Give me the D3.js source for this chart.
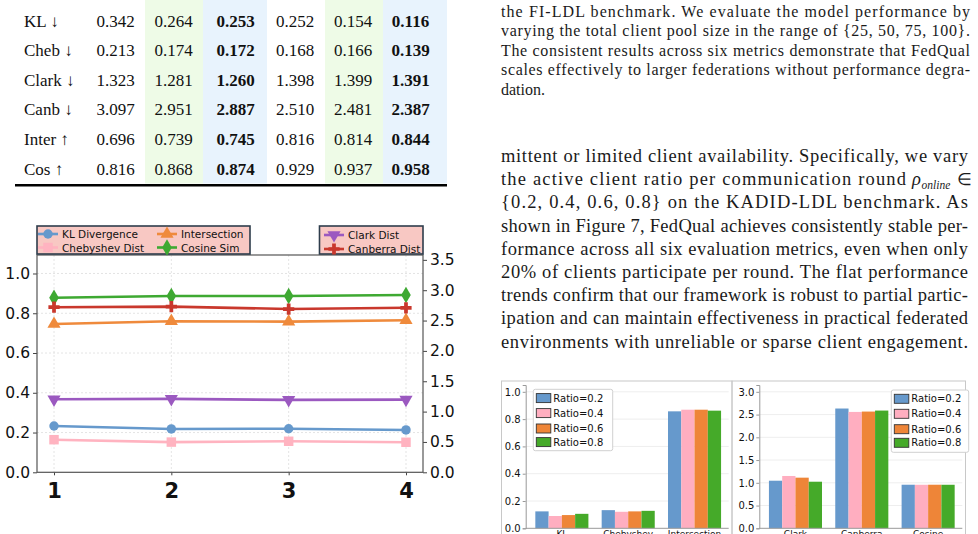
<!DOCTYPE html>
<html>
<head>
<meta charset="utf-8">
<script src="https://cdn.jsdelivr.net/npm/d3@7"></script>
<style>
  body { margin: 0; background: #fff; }
  svg { display: block; }
</style>
</head>
<body>
<div id="page"></div>
<script>
// ---------- table data ----------
const tableRows = ["KL \u2193", "Cheb \u2193", "Clark \u2193", "Canb \u2193", "Inter \u2191", "Cos \u2191"];
const tableValues = [
  ["0.342", "0.264", "0.253", "0.252", "0.154", "0.116"],
  ["0.213", "0.174", "0.172", "0.168", "0.166", "0.139"],
  ["1.323", "1.281", "1.260", "1.398", "1.399", "1.391"],
  ["3.097", "2.951", "2.887", "2.510", "2.481", "2.387"],
  ["0.696", "0.739", "0.745", "0.816", "0.814", "0.844"],
  ["0.816", "0.868", "0.874", "0.929", "0.937", "0.958"]
];
const boldCols = [2, 5];

// ---------- line chart data (client pool size) ----------
const rounds = [1, 2, 3, 4];
const klDiv = [0.233, 0.218, 0.219, 0.213];
const chebDist = [0.164, 0.152, 0.156, 0.151];
const interSec = [0.746, 0.760, 0.758, 0.765];
const cosSim = [0.878, 0.887, 0.887, 0.892];
const clarkDist = [1.203, 1.209, 1.193, 1.198];
const canbDist = [2.72, 2.73, 2.69, 2.71];
const leftTicks = [0.0, 0.2, 0.4, 0.6, 0.8, 1.0];
const rightTicks = [0.0, 0.5, 1.0, 1.5, 2.0, 2.5, 3.0, 3.5];

// ---------- bar chart data (client ratio) ----------
const ratios = ["Ratio=0.2", "Ratio=0.4", "Ratio=0.6", "Ratio=0.8"];
const barMetricsA = ["KL", "Chebyshev", "Intersection"];
const barValuesA = [
  [0.124, 0.090, 0.097, 0.106],
  [0.133, 0.121, 0.124, 0.128],
  [0.857, 0.869, 0.869, 0.862]
];
const barTicksA = [0.0, 0.2, 0.4, 0.6, 0.8, 1.0];
const barMetricsB = ["Clark", "Canberra", "Cosine"];
const barValuesB = [
  [1.046, 1.150, 1.113, 1.024],
  [2.633, 2.558, 2.566, 2.588],
  [0.958, 0.957, 0.958, 0.957]
];
const barTicksB = [0.0, 0.5, 1.0, 1.5, 2.0, 2.5, 3.0];

// ---------- paragraph text ----------
const paraTop = [
  "the FI-LDL benchmark. We evaluate the model performance by",
  "varying the total client pool size in the range of {25, 50, 75, 100}.",
  "The consistent results across six metrics demonstrate that FedQual",
  "scales effectively to larger federations without performance degra-",
  "dation."
];
const paraBottom = [
  "mittent or limited client availability. Specifically, we vary",
  "the active client ratio per communication round",
  "{0.2, 0.4, 0.6, 0.8} on the KADID-LDL benchmark.  As",
  "shown in Figure 7, FedQual achieves consistently stable per-",
  "formance across all six evaluation metrics, even when only",
  "20% of clients participate per round. The flat performance",
  "trends confirm that our framework is robust to partial partic-",
  "ipation and can maintain effectiveness in practical federated",
  "environments with unreliable or sparse client engagement."
];

const svg = d3.select("#page").append("svg")
  .attr("width", 978).attr("height", 534);

const serif = "'Liberation Serif', 'Times New Roman', serif";
const sans = "'DejaVu Sans', sans-serif";

// ===================================
// TABLE
// ===================================
(function() {
  const g = svg.append("g");
  const colX = [115.5, 173.5, 235.5, 295, 353, 410.5];
  const rowY = d3.scaleLinear().domain([0, 5]).range([26.5, 174.5]);

  // shaded columns
  const bands = [
    { x0: 145, x1: 203, fill: "#eefbe7" },
    { x0: 203, x1: 267, fill: "#e8f3fd" },
    { x0: 325, x1: 383, fill: "#eefbe7" },
    { x0: 383, x1: 447, fill: "#e8f3fd" }
  ];
  g.selectAll("rect.band").data(bands).join("rect")
    .attr("x", d => d.x0).attr("y", 0)
    .attr("width", d => d.x1 - d.x0).attr("height", 183.5)
    .attr("fill", d => d.fill);

  g.selectAll("text.row").data(tableRows).join("text")
    .attr("x", 24).attr("y", (d, i) => rowY(i))
    .attr("font-family", serif).attr("font-size", 17).attr("fill", "#111")
    .text(d => d);

  tableValues.forEach((row, i) => {
    g.selectAll(null).data(row).join("text")
      .attr("x", (d, j) => colX[j]).attr("y", rowY(i))
      .attr("text-anchor", "middle")
      .attr("font-family", serif).attr("font-size", 17).attr("fill", "#111")
      .attr("font-weight", (d, j) => boldCols.includes(j) ? "bold" : "normal")
      .text(d => d);
  });

  g.append("rect").attr("x", 15).attr("y", 184).attr("width", 432).attr("height", 2.5).attr("fill", "#000");
})();

// ===================================
// PARAGRAPHS
// ===================================
function justLine(str, x, y, w, size, justify) {
  const t = svg.append("text")
    .attr("x", x).attr("y", y)
    .attr("font-family", serif).attr("font-size", size).attr("fill", "#1a1a1a")
    .text(str);
  if (justify) t.attr("textLength", w).attr("lengthAdjust", "spacing");
  return t;
}
paraTop.forEach((s, i) => justLine(s, 501, 16.5 + i * 19.6, 469, 16, i < paraTop.length - 1));
paraBottom.forEach((s, i) => {
  const y = 162 + i * 23.2;
  if (i === 1) {
    justLine(s, 501, y, 405, 18.5, true);
    svg.append("text").attr("x", 912).attr("y", y).attr("font-family", serif)
      .attr("font-style", "italic").attr("font-size", 18.5).attr("fill", "#1a1a1a").text("\u03C1");
    svg.append("text").attr("x", 921.5).attr("y", y + 3.5).attr("font-family", serif)
      .attr("font-style", "italic").attr("font-size", 11.5).attr("fill", "#1a1a1a").text("online");
    svg.append("text").attr("x", 957).attr("y", y).attr("font-family", serif)
      .attr("font-size", 17).attr("fill", "#1a1a1a").text("\u2208");
  } else {
    justLine(s, 501, y, 467, 18.5, true);
  }
});

// ===================================
// LINE CHART
// ===================================
(function() {
  const left = 37, right = 423, top = 255, bottom = 472.3;
  const g = svg.append("g");

  const x = d3.scaleLinear().domain([0.855, 4.145]).range([left, right]);
  const yL = d3.scaleLinear().domain([0, 1.093]).range([bottom, top]);
  const yR = d3.scaleLinear().domain([0, 3.58]).range([bottom, top]);

  // grid
  g.append("g").selectAll("line").data(leftTicks.slice(1)).join("line")
    .attr("x1", left).attr("x2", right)
    .attr("y1", d => yL(d)).attr("y2", d => yL(d))
    .attr("stroke", "#ddd").attr("stroke-width", 0.8).attr("stroke-dasharray", "2,2");
  g.append("g").selectAll("line").data(rounds).join("line")
    .attr("x1", d => x(d)).attr("x2", d => x(d))
    .attr("y1", top).attr("y2", bottom)
    .attr("stroke", "#ddd").attr("stroke-width", 0.8).attr("stroke-dasharray", "2,2");

  // axes
  const axL = g.append("g").attr("transform", `translate(${left},0)`)
    .call(d3.axisLeft(yL).tickValues(leftTicks).tickFormat(d3.format(".1f")).tickSize(4).tickPadding(3));
  const axR = g.append("g").attr("transform", `translate(${right},0)`)
    .call(d3.axisRight(yR).tickValues(rightTicks).tickFormat(d3.format(".1f")).tickSize(4).tickPadding(3));
  const axX = g.append("g").attr("transform", `translate(0,${bottom})`)
    .call(d3.axisBottom(x).tickValues(rounds).tickFormat(d3.format("d")).tickSize(3).tickPadding(8));
  [axL, axR, axX].forEach(a => {
    a.select(".domain").remove();
    a.selectAll("line").attr("stroke", "#444");
    a.selectAll("text").attr("font-family", sans).attr("fill", "#111");
  });
  axL.selectAll("text").attr("font-size", 15.5);
  axR.selectAll("text").attr("font-size", 15.5);
  axX.selectAll("text").attr("font-size", 21).attr("font-weight", "bold");

  // frame
  g.append("rect").attr("x", left).attr("y", top)
    .attr("width", right - left).attr("height", bottom - top)
    .attr("fill", "none").attr("stroke", "#555").attr("stroke-width", 1.2);

  const series = [
    { name: "KL Divergence", vals: klDiv, y: yL, color: "#6699cc", sym: d3.symbolCircle, size: 70, rot: 0 },
    { name: "Chebyshev Dist", vals: chebDist, y: yL, color: "#ffb3c0", sym: d3.symbolSquare, size: 90, rot: 0 },
    { name: "Intersection", vals: interSec, y: yL, color: "#ef8a3c", sym: d3.symbolTriangle, size: 75, rot: 0 },
    { name: "Cosine Sim", vals: cosSim, y: yL, color: "#3ea932", sym: d3.symbolDiamond, size: 80, rot: 0 },
    { name: "Clark Dist", vals: clarkDist, y: yR, color: "#9b59c0", sym: d3.symbolTriangle, size: 75, rot: 180 },
    { name: "Canberra Dist", vals: canbDist, y: yR, color: "#c9382d", sym: d3.symbolCross, size: 70, rot: 0 }
  ];

  const line = (s) => d3.line().x((d, i) => x(rounds[i])).y(d => s.y(d))(s.vals);
  series.forEach(s => {
    g.append("path").attr("d", line(s)).attr("fill", "none")
      .attr("stroke", s.color).attr("stroke-width", 2.6);
    g.selectAll(null).data(s.vals).join("path")
      .attr("d", d3.symbol().type(s.sym).size(s.size))
      .attr("transform", (d, i) => `translate(${x(rounds[i])},${s.y(d)}) rotate(${s.rot})`)
      .attr("fill", s.color);
  });

  // legends
  function legend(items, box, pos) {
    const lg = g.append("g");
    lg.append("rect").attr("x", box.x).attr("y", box.y).attr("width", box.w).attr("height", box.h)
      .attr("fill", "#f8c8c3").attr("stroke", "#2e3d4c").attr("stroke-width", 1.6);
    items.forEach((s, i) => {
      const p = pos[i];
      lg.append("line").attr("x1", p.x).attr("x2", p.x + 20).attr("y1", p.y).attr("y2", p.y)
        .attr("stroke", s.color).attr("stroke-width", 2.6);
      lg.append("path").attr("d", d3.symbol().type(s.sym).size(s.size))
        .attr("transform", `translate(${p.x + 10},${p.y}) rotate(${s.rot})`).attr("fill", s.color);
      lg.append("text").attr("x", p.x + 24).attr("y", p.y + 4)
        .attr("font-family", sans).attr("font-size", 10.5).attr("fill", "#111").text(s.name);
    });
  }
  legend([series[0], series[1], series[2], series[3]],
    { x: 37, y: 226, w: 213, h: 28 },
    [{ x: 38, y: 234 }, { x: 38, y: 247.5 }, { x: 157, y: 234 }, { x: 157, y: 247.5 }]);
  legend([series[4], series[5]],
    { x: 319.5, y: 226, w: 103.5, h: 28 },
    [{ x: 324, y: 235 }, { x: 324, y: 249 }]);
})();

// ===================================
// BAR CHARTS
// ===================================
const barColors = ["#6699cc", "#ffaec0", "#ee8538", "#45aa29"];

// outer frames
svg.append("rect").attr("x", 501.5).attr("y", 381).attr("width", 230.5).attr("height", 170)
  .attr("fill", "none").attr("stroke", "#c8c8c8").attr("stroke-width", 1);
svg.append("rect").attr("x", 732).attr("y", 381).attr("width", 233.5).attr("height", 170)
  .attr("fill", "none").attr("stroke", "#c8c8c8").attr("stroke-width", 1);

function barPanel(axisX, metrics, values, ticks, ymax, legendBox) {
  const bottom = 528.3, top = 385, w = 203;
  const g = svg.append("g");

  const y = d3.scaleLinear().domain([0, ymax]).range([bottom, top]);
  const x0 = d3.scaleBand().domain(metrics).range([axisX + 3, axisX + 202]);
  const x1 = d3.scaleBand().domain(ratios).range([0, x0.bandwidth()]).paddingOuter(0.5);

  g.selectAll("line.grid").data(ticks.slice(1)).join("line")
    .attr("x1", axisX).attr("x2", axisX + w)
    .attr("y1", d => y(d)).attr("y2", d => y(d))
    .attr("stroke", "#eee").attr("stroke-width", 1);

  metrics.forEach((m, i) => {
    g.selectAll(null).data(values[i]).join("rect")
      .attr("x", (d, j) => x0(m) + x1(ratios[j]))
      .attr("y", d => y(d))
      .attr("width", x1.bandwidth())
      .attr("height", d => bottom - y(d))
      .attr("fill", (d, j) => barColors[j]);
  });

  const ay = g.append("g").attr("transform", `translate(${axisX},0)`)
    .call(d3.axisLeft(y).tickValues(ticks).tickFormat(d3.format(".1f")).tickSize(3).tickPadding(2));
  ay.select(".domain").attr("stroke", "#999");
  ay.selectAll("line").attr("stroke", "#999");
  ay.selectAll("text").attr("font-family", sans).attr("font-size", 10).attr("fill", "#111");

  // category labels sit at the page's bottom edge, as in the reference
  const ax = g.append("g").attr("transform", `translate(0,${bottom})`)
    .call(d3.axisBottom(x0).tickSize(0).tickPadding(2));
  ax.select(".domain").attr("d", `M${axisX},0H${axisX + w}`).attr("stroke", "#999");
  ax.selectAll("text").attr("font-family", sans).attr("font-size", 9).attr("fill", "#111");

  // legend
  const lg = g.append("g");
  lg.append("rect").attr("x", legendBox.x).attr("y", legendBox.y)
    .attr("width", legendBox.w).attr("height", legendBox.h).attr("rx", 2)
    .attr("fill", "#fff").attr("stroke", "#d0d0d0").attr("stroke-width", 1);
  const rowsY = [8.8, 23.8, 39.2, 52.8];
  ratios.forEach((r, j) => {
    lg.append("rect").attr("x", legendBox.x + 3).attr("y", legendBox.y + rowsY[j] - 4.5)
      .attr("width", 14.5).attr("height", 9)
      .attr("fill", barColors[j]).attr("stroke", "#333").attr("stroke-width", 0.9);
    lg.append("text").attr("x", legendBox.x + 20).attr("y", legendBox.y + rowsY[j] + 3.5)
      .attr("font-family", sans).attr("font-size", 10).attr("fill", "#111").text(r);
  });
}

barPanel(525.7, barMetricsA, barValuesA, barTicksA, 1.05, { x: 533.3, y: 389.3, w: 79.4, h: 61.4 });
barPanel(759.3, barMetricsB, barValuesB, barTicksB, 3.15, { x: 891.3, y: 390, w: 77.4, h: 62.3 });
</script>
</body>
</html>
